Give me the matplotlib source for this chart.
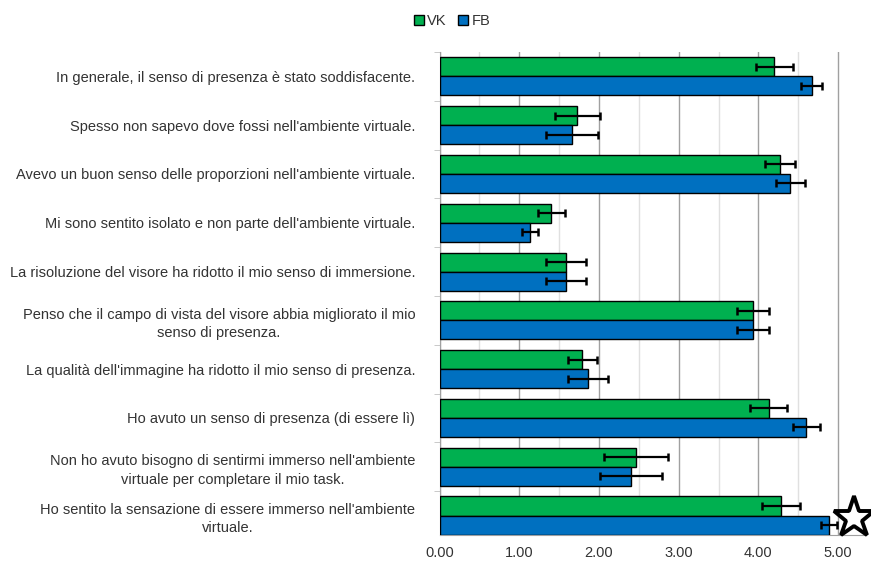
import matplotlib
matplotlib.use("Agg")
import matplotlib.pyplot as plt
import numpy as np
from matplotlib.ticker import MultipleLocator

plt.rcParams["font.family"] = ["Liberation Sans", "DejaVu Sans"]

# survey items, top to bottom
items = [
    "In generale, il senso di presenza è stato soddisfacente.",
    "Spesso non sapevo dove fossi nell'ambiente virtuale.",
    "Avevo un buon senso delle proporzioni nell'ambiente virtuale.",
    "Mi sono sentito isolato e non parte dell'ambiente virtuale.",
    "La risoluzione del visore ha ridotto il mio senso di immersione.",
    "Penso che il campo di vista del visore abbia migliorato il mio\nsenso di presenza.",
    "La qualità dell'immagine ha ridotto il mio senso di presenza.",
    "Ho avuto un senso di presenza (di essere lì)",
    "Non ho avuto bisogno di sentirmi immerso nell'ambiente\nvirtuale per completare il mio task.",
    "Ho sentito la sensazione di essere immerso nell'ambiente\nvirtuale.",
]

vk_mean = [4.20, 1.73, 4.27, 1.40, 1.59, 3.93, 1.79, 4.13, 2.46, 4.28]
vk_err = [0.23, 0.28, 0.19, 0.17, 0.25, 0.20, 0.18, 0.23, 0.40, 0.24]
fb_mean = [4.67, 1.66, 4.40, 1.13, 1.59, 3.93, 1.86, 4.60, 2.40, 4.88]
fb_err = [0.13, 0.33, 0.18, 0.10, 0.25, 0.20, 0.25, 0.17, 0.39, 0.10]

# significant difference marker
star_item = 9
star_x = 5.2

green = "#00b050"
blue = "#0070c0"
text_col = "#333333"

fig = plt.figure(figsize=(8.71, 5.63), dpi=100)
ax = fig.add_axes([0.5046, 0.0497, 0.4897, 0.858])

y = np.arange(len(items))
h = 0.39
err_kw = dict(ecolor="black", elinewidth=1.6, capsize=3, capthick=1.8)
ax.barh(y - h / 2, vk_mean, height=h, color=green, edgecolor="black",
        linewidth=1, xerr=vk_err, error_kw=err_kw, label="VK", zorder=3)
ax.barh(y + h / 2, fb_mean, height=h, color=blue, edgecolor="black",
        linewidth=1, xerr=fb_err, error_kw=err_kw, label="FB", zorder=3)

ax.plot(star_x, star_item + 0.05, marker="*", markersize=31,
        markerfacecolor="white", markeredgecolor="black",
        markeredgewidth=2.8, clip_on=False, zorder=5)

ax.set_xlim(0, 5.35)
ax.set_ylim(len(items) - 0.6, -0.5)

ax.xaxis.set_major_locator(MultipleLocator(1))
ax.xaxis.set_minor_locator(MultipleLocator(0.5))
ax.set_xticks([0, 1, 2, 3, 4, 5])
ax.set_xticklabels(["%.2f" % v for v in range(6)])
ax.grid(axis="x", which="major", color="#a0a0a0", linewidth=1, zorder=0)
ax.grid(axis="x", which="minor", color="#e0e0e0", linewidth=1, zorder=0)
ax.tick_params(axis="x", which="both", length=0, labelsize=10.5,
               labelcolor=text_col, pad=8)

# category ticks sit between groups, labels at group centers
ax.set_yticks(y)
ax.set_yticklabels(items)
for lab in ax.get_yticklabels():
    lab.set_multialignment("center")
    lab.set_linespacing(1.4)
ax.set_yticks(np.arange(len(items)) - 0.5, minor=True)
ax.tick_params(axis="y", which="major", length=0, labelsize=10.5,
               labelcolor=text_col, pad=17.5)
ax.tick_params(axis="y", which="minor", length=4, color="#c0c0c0")

for s in ["top", "right"]:
    ax.spines[s].set_visible(False)
ax.spines["left"].set_color("#a0a0a0")
ax.spines["bottom"].set_color("#a0a0a0")

fig.legend(loc="center", bbox_to_anchor=(0.519, 0.962), ncol=2, frameon=False,
           handlelength=0.7, handleheight=0.7, handletextpad=0.2,
           columnspacing=0.8, fontsize=10.5, labelcolor=text_col)

fig.savefig("out.png", dpi=100)
